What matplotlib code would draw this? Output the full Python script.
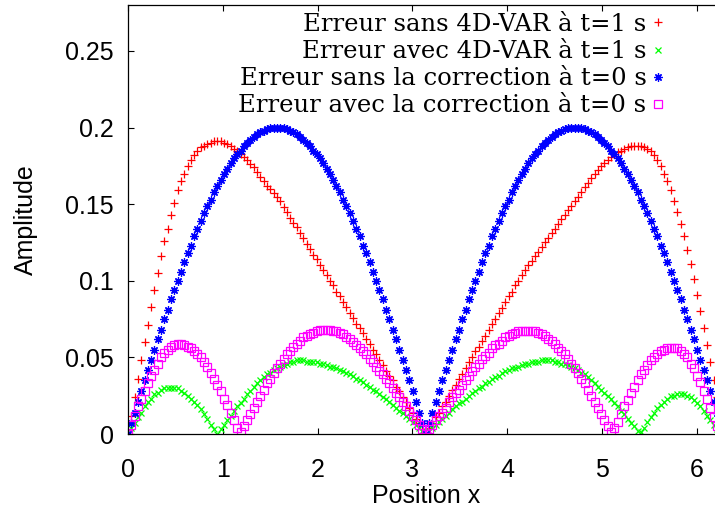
import numpy as np
import matplotlib.pyplot as plt

plt.rcParams['font.family'] = ['Liberation Sans', 'DejaVu Sans']

# grille en x : 0 .. 2*pi, pas de 2 degres (181 points)
x = np.linspace(0, 2 * np.pi, 181)

# erreur sans 4D-VAR a t=1 s
err_sans_4dvar = [
    0.000, 0.012, 0.024, 0.036, 0.048, 0.060, 0.071, 0.083, 0.094, 0.105,
    0.116, 0.126, 0.134, 0.143, 0.151, 0.159, 0.165, 0.170, 0.175, 0.179,
    0.182, 0.185, 0.187, 0.188, 0.189, 0.190, 0.191, 0.191, 0.191, 0.190,
    0.189, 0.188, 0.186, 0.185, 0.183, 0.181, 0.179, 0.176, 0.174, 0.171,
    0.168, 0.165, 0.162, 0.160, 0.157, 0.155, 0.152, 0.148, 0.145, 0.141,
    0.138, 0.135, 0.131, 0.128, 0.124, 0.121, 0.117, 0.114, 0.110, 0.107,
    0.104, 0.100, 0.097, 0.093, 0.090, 0.086, 0.083, 0.079, 0.076, 0.072,
    0.069, 0.066, 0.062, 0.059, 0.055, 0.052, 0.048, 0.045, 0.041, 0.038,
    0.035, 0.031, 0.028, 0.024, 0.021, 0.017, 0.014, 0.010, 0.007, 0.003,
    0.000, 0.004, 0.007, 0.011, 0.014, 0.018, 0.021, 0.025, 0.029, 0.032,
    0.036, 0.039, 0.043, 0.047, 0.050, 0.054, 0.057, 0.061, 0.064, 0.068,
    0.072, 0.075, 0.079, 0.082, 0.086, 0.090, 0.093, 0.097, 0.100, 0.104,
    0.107, 0.110, 0.113, 0.116, 0.119, 0.122, 0.125, 0.128, 0.131, 0.134,
    0.137, 0.140, 0.143, 0.146, 0.149, 0.152, 0.155, 0.158, 0.161, 0.164,
    0.167, 0.170, 0.172, 0.175, 0.177, 0.179, 0.181, 0.183, 0.184, 0.185,
    0.186, 0.187, 0.188, 0.188, 0.188, 0.188, 0.187, 0.186, 0.185, 0.182,
    0.179, 0.175, 0.170, 0.165, 0.159, 0.152, 0.145, 0.137, 0.129, 0.120,
    0.111, 0.101, 0.091, 0.080, 0.069, 0.058, 0.047, 0.035, 0.024, 0.012,
    0.000]

# erreur avec 4D-VAR a t=1 s
err_avec_4dvar = [
    0.000, 0.004, 0.007, 0.011, 0.014, 0.018, 0.021, 0.023, 0.026, 0.027,
    0.029, 0.030, 0.030, 0.030, 0.030, 0.030, 0.028, 0.027, 0.025, 0.023,
    0.021, 0.019, 0.016, 0.013, 0.010, 0.006, 0.003, 0.000, 0.003, 0.006,
    0.009, 0.012, 0.015, 0.018, 0.020, 0.023, 0.026, 0.028, 0.031, 0.033,
    0.035, 0.037, 0.039, 0.040, 0.042, 0.043, 0.044, 0.045, 0.046, 0.047,
    0.047, 0.048, 0.048, 0.048, 0.047, 0.047, 0.047, 0.047, 0.046, 0.046,
    0.045, 0.044, 0.044, 0.043, 0.042, 0.041, 0.040, 0.039, 0.038, 0.036,
    0.035, 0.034, 0.032, 0.031, 0.029, 0.028, 0.026, 0.024, 0.023, 0.021,
    0.019, 0.017, 0.015, 0.014, 0.012, 0.010, 0.008, 0.006, 0.004, 0.002,
    0.000, 0.002, 0.004, 0.006, 0.008, 0.010, 0.012, 0.014, 0.016, 0.018,
    0.020, 0.021, 0.023, 0.025, 0.027, 0.028, 0.030, 0.031, 0.033, 0.034,
    0.036, 0.037, 0.038, 0.040, 0.041, 0.042, 0.043, 0.043, 0.044, 0.045,
    0.046, 0.046, 0.047, 0.047, 0.047, 0.048, 0.048, 0.048, 0.048, 0.047,
    0.047, 0.046, 0.046, 0.045, 0.044, 0.043, 0.042, 0.040, 0.039, 0.037,
    0.035, 0.033, 0.031, 0.029, 0.027, 0.025, 0.023, 0.020, 0.018, 0.015,
    0.013, 0.010, 0.007, 0.005, 0.002, 0.001, 0.004, 0.008, 0.011, 0.014,
    0.017, 0.019, 0.021, 0.023, 0.025, 0.025, 0.026, 0.026, 0.026, 0.025,
    0.024, 0.022, 0.020, 0.018, 0.015, 0.012, 0.009, 0.006, 0.003, 0.001,
    0.000]

# erreur sans la correction a t=0 s
err_sans_corr = [
    0.000, 0.007, 0.014, 0.021, 0.028, 0.035, 0.042, 0.048, 0.055, 0.062,
    0.068, 0.075, 0.081, 0.088, 0.094, 0.100, 0.106, 0.112, 0.118, 0.123,
    0.129, 0.134, 0.139, 0.144, 0.149, 0.153, 0.158, 0.162, 0.166, 0.170,
    0.173, 0.177, 0.180, 0.183, 0.185, 0.188, 0.190, 0.192, 0.194, 0.196,
    0.197, 0.198, 0.199, 0.200, 0.200, 0.200, 0.200, 0.200, 0.199, 0.198,
    0.197, 0.196, 0.194, 0.192, 0.190, 0.188, 0.185, 0.183, 0.180, 0.177,
    0.173, 0.170, 0.166, 0.162, 0.158, 0.153, 0.149, 0.144, 0.139, 0.134,
    0.129, 0.123, 0.118, 0.112, 0.106, 0.100, 0.094, 0.088, 0.081, 0.075,
    0.068, 0.062, 0.055, 0.048, 0.042, 0.035, 0.028, 0.021, 0.014, 0.007,
    0.000, 0.007, 0.014, 0.021, 0.028, 0.035, 0.042, 0.048, 0.055, 0.062,
    0.068, 0.075, 0.081, 0.088, 0.094, 0.100, 0.106, 0.112, 0.118, 0.123,
    0.129, 0.134, 0.139, 0.144, 0.149, 0.153, 0.158, 0.162, 0.166, 0.170,
    0.173, 0.177, 0.180, 0.183, 0.185, 0.188, 0.190, 0.192, 0.194, 0.196,
    0.197, 0.198, 0.199, 0.200, 0.200, 0.200, 0.200, 0.200, 0.199, 0.198,
    0.197, 0.196, 0.194, 0.192, 0.190, 0.188, 0.185, 0.183, 0.180, 0.177,
    0.173, 0.170, 0.166, 0.162, 0.158, 0.153, 0.149, 0.144, 0.139, 0.134,
    0.129, 0.123, 0.118, 0.112, 0.106, 0.100, 0.094, 0.088, 0.081, 0.075,
    0.068, 0.062, 0.055, 0.048, 0.042, 0.035, 0.028, 0.021, 0.014, 0.007,
    0.000]

# erreur avec la correction a t=0 s
err_avec_corr = [
    0.000, 0.006, 0.012, 0.018, 0.023, 0.028, 0.033, 0.038, 0.042, 0.046,
    0.050, 0.053, 0.055, 0.057, 0.058, 0.059, 0.059, 0.058, 0.057, 0.056,
    0.054, 0.052, 0.050, 0.047, 0.044, 0.040, 0.036, 0.032, 0.028, 0.023,
    0.019, 0.014, 0.009, 0.004, 0.001, 0.005, 0.009, 0.013, 0.017, 0.021,
    0.025, 0.029, 0.033, 0.036, 0.040, 0.043, 0.046, 0.049, 0.052, 0.054,
    0.057, 0.059, 0.061, 0.063, 0.064, 0.065, 0.066, 0.067, 0.068, 0.068,
    0.068, 0.068, 0.067, 0.067, 0.066, 0.065, 0.063, 0.062, 0.060, 0.058,
    0.056, 0.054, 0.052, 0.049, 0.047, 0.044, 0.041, 0.039, 0.036, 0.033,
    0.030, 0.027, 0.024, 0.021, 0.018, 0.015, 0.012, 0.009, 0.006, 0.003,
    0.000, 0.003, 0.006, 0.009, 0.012, 0.014, 0.017, 0.021, 0.024, 0.027,
    0.029, 0.032, 0.035, 0.038, 0.041, 0.044, 0.046, 0.049, 0.051, 0.053,
    0.056, 0.058, 0.059, 0.061, 0.063, 0.064, 0.065, 0.066, 0.067, 0.067,
    0.067, 0.067, 0.067, 0.067, 0.066, 0.065, 0.064, 0.062, 0.061, 0.059,
    0.056, 0.054, 0.052, 0.049, 0.046, 0.043, 0.040, 0.036, 0.033, 0.029,
    0.025, 0.021, 0.017, 0.013, 0.009, 0.005, 0.001, 0.004, 0.008, 0.013,
    0.018, 0.022, 0.027, 0.031, 0.035, 0.039, 0.042, 0.045, 0.048, 0.050,
    0.052, 0.054, 0.055, 0.056, 0.056, 0.056, 0.056, 0.054, 0.052, 0.050,
    0.046, 0.043, 0.038, 0.034, 0.028, 0.023, 0.017, 0.011, 0.005, 0.001,
    0.000]

labels = ['Erreur sans 4D-VAR à t=1 s',
          'Erreur avec 4D-VAR à t=1 s',
          'Erreur sans la correction à t=0 s',
          'Erreur avec la correction à t=0 s']
xticks = [0, 1, 2, 3, 4, 5, 6]
yticks = [0, 0.05, 0.1, 0.15, 0.2, 0.25]
ytick_labels = ['0', '0.05', '0.1', '0.15', '0.2', '0.25']


fig = plt.figure(figsize=(7.15, 5.14), dpi=100)
ax = fig.add_axes([128 / 715, 80 / 514, 595.6 / 715, 429 / 514])

ax.plot(x, err_sans_4dvar, ls='none', marker='+', ms=6, mew=0.9,
        color='#ff0000', label=labels[0])
ax.plot(x, err_avec_4dvar, ls='none', marker='x', ms=4.5, mew=0.9,
        color='#00ff00', label=labels[1])
ax.plot(x, err_sans_corr, ls='none', marker=(8, 2, 0), ms=6, mew=0.9,
        color='#0000ff', label=labels[2])
ax.plot(x, err_avec_corr, ls='none', marker='s', ms=5.5, mew=0.9,
        mfc='none', color='#ff00ff', label=labels[3])

ax.set_xlim(0, 2 * np.pi)
ax.set_ylim(0, 0.28)
ax.set_xticks(xticks)
ax.set_yticks(yticks)
ax.set_yticklabels(ytick_labels)
ax.tick_params(direction='in', length=4.5, width=0.8, top=True, right=True,
               labelsize=18)
ax.tick_params(axis='x', pad=17)
ax.tick_params(axis='y', pad=10)
for s in ax.spines.values():
    s.set_linewidth(0.9)

ax.set_xlabel('Position x', fontsize=18)
ax.set_ylabel('Amplitude', fontsize=18)
ax.xaxis.set_label_coords(0.5, -0.117)
ax.yaxis.set_label_coords(-0.152, 0.5)

leg = ax.legend(loc='upper right', bbox_to_anchor=(664 / 715, 1 - 13 / 514),
                bbox_transform=fig.transFigure, markerfirst=False,
                frameon=False, numpoints=1, handlelength=0.5,
                handletextpad=0.22, labelspacing=0.165, borderpad=0,
                borderaxespad=0,
                prop={'family': 'DejaVu Serif', 'size': 17.5})
# texte aligne a droite comme gnuplot
for col in leg._legend_box._children[-1]._children:
    col.align = 'right'

fig.savefig('out.png', dpi=100)
